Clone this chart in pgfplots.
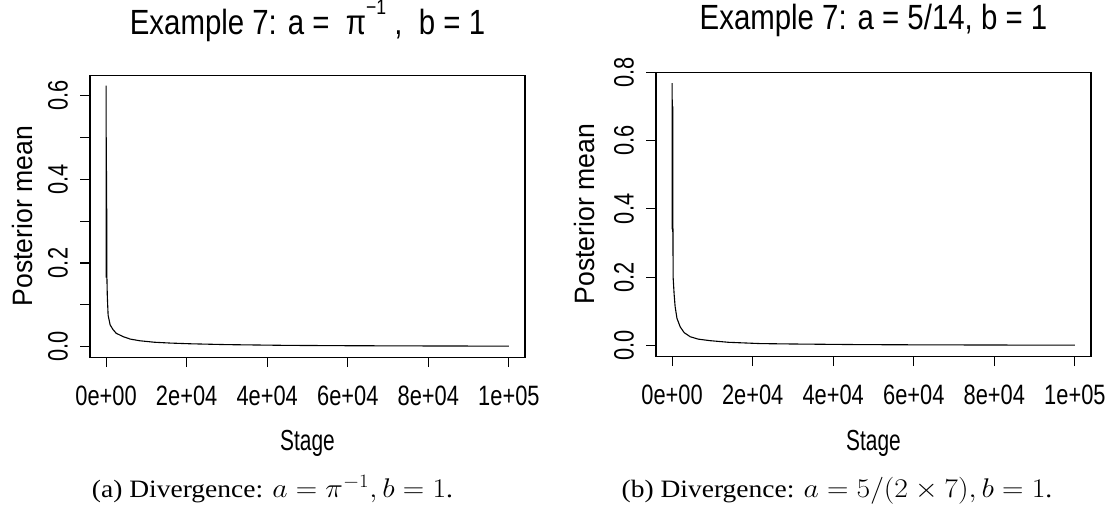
\RequirePackage{fix-cm}
\documentclass[border=0pt]{standalone}
\usepackage{graphicx}
\usepackage{pgfplots}
\pgfplotsset{compat=1.18}
\usepackage{pgfplotstable}
\usepackage{fontspec}
\setmainfont{Liberation Serif}
\newfontfamily\tickfont[FakeStretch=0.78]{Liberation Sans}
\newfontfamily\labfont[FakeStretch=0.72]{Liberation Sans}
\newfontfamily\ylabfont[FakeStretch=0.95]{Liberation Sans}
\newfontfamily\titlefont[FakeStretch=0.84]{Liberation Sans}

% Posterior mean by stage, a = 1/pi
\pgfplotstableread{
x y
1 0.42
4 0.30
8 0.52
12 0.624
16 0.20
22 0.50
28 0.17
35 0.48
42 0.165
50 0.46
60 0.19
70 0.44
80 0.18
95 0.42
110 0.21
125 0.38
140 0.22
160 0.33
180 0.19
200 0.165
300 0.12
500 0.075
1000 0.052
1700 0.041
2500 0.032
4200 0.024
6000 0.018
8400 0.014
12000 0.0105
16000 0.0085
21000 0.0068
30000 0.0048
45000 0.0030
60000 0.0022
80000 0.0016
100000 0.0012
}\pathA

% Posterior mean by stage, a = 5/14
\pgfplotstableread{
x y
1 0.55
4 0.70
8 0.40
12 0.768
16 0.65
22 0.715
28 0.34
35 0.70
42 0.66
50 0.72
60 0.45
70 0.69
80 0.65
95 0.70
110 0.333
130 0.66
150 0.70
170 0.50
200 0.36
250 0.20
500 0.15
750 0.114
1200 0.080
2000 0.055
3000 0.038
4500 0.026
6500 0.019
9400 0.0146
14000 0.0098
21900 0.0060
30000 0.0048
46700 0.0030
60000 0.0024
80000 0.0018
100000 0.0014
}\pathB

\pgfplotsset{
  rplot/.style={
    anchor=south west, scale only axis,
    width=435pt,
    xmin=-4000, xmax=104000,
    axis line style={black, line width=1.1pt},
    tick style={black, line width=1.1pt},
    tick align=outside, major tick length=10pt,
    xtick pos=lower, ytick pos=left,
    xtick={0,20000,40000,60000,80000,100000},
    xticklabels={0e+00,2e+04,4e+04,6e+04,8e+04,1e+05},
    scaled x ticks=false, scaled y ticks=false,
    xticklabel style={font=\tickfont\fontsize{28}{28}\selectfont, anchor=base, inner sep=0pt},
    xticklabel shift=38.5pt,
    yticklabel style={font=\tickfont\fontsize{28}{28}\selectfont, rotate=90, anchor=south, inner sep=0pt},
    yticklabel shift=12pt,
    xlabel={Stage},
    xlabel style={font=\labfont\fontsize{29}{29}\selectfont, at={(axis description cs:0.5,-0.3326)}, anchor=base, inner sep=0pt},
    ylabel={Posterior mean},
    ylabel style={font=\ylabfont\fontsize{28}{28}\selectfont, anchor=center, inner sep=0pt},
    title style={font=\titlefont\fontsize{35}{35}\selectfont, anchor=base, inner sep=0pt},
  },
}
% subfigure captions: Times text with Computer Modern math
\newcommand\capmath[1]{{\fontsize{27}{27}\selectfont$#1$}}
\newcommand\subcap[1]{\scalebox{1.1}[1]{\fontsize{25}{25}\selectfont #1}}

\begin{document}
\begin{tikzpicture}[x=1pt,y=1pt]
\path (0pt,0pt) rectangle (1115pt,501pt);

\begin{axis}[rplot, at={(90pt,146.5pt)}, height=282pt,
    ymin=-0.0251, ymax=0.649,
    ytick={0,0.1,0.2,0.3,0.4,0.5,0.6},
    yticklabels={0.0,,0.2,,0.4,,0.6},
    ylabel style={at={(axis description cs:-0.1563,0.5)}},
    title={Example 7: a =\ \ π\raisebox{20pt}{\fontsize{21}{21}\selectfont −1}\ ,\ \ b = 1},
    title style={at={(axis description cs:0.5,1.123)}},
  ]
  \addplot[black, line width=1.1pt] table[x=x, y=y] {\pathA};
\end{axis}

\begin{axis}[rplot, at={(656pt,147.5pt)}, height=284pt,
    ymin=-0.0307, ymax=0.8002,
    ytick={0,0.2,0.4,0.6,0.8},
    yticklabels={0.0,0.2,0.4,0.6,0.8},
    ylabel style={at={(axis description cs:-0.1655,0.5)}},
    title={Example 7: a = 5/14, b = 1},
    title style={at={(axis description cs:0.5,1.13)}},
  ]
  \addplot[black, line width=1.1pt] table[x=x, y=y] {\pathB};
\end{axis}

\node[anchor=base, inner sep=0pt] at (272.5pt,6pt)
  {\subcap{(a) Divergence: \capmath{a=\pi^{-1}, b=1}.}};
\node[anchor=base, inner sep=0pt] at (837pt,6pt)
  {\subcap{(b) Divergence: \capmath{a=5/(2\times 7), b=1}.}};
\end{tikzpicture}
\end{document}
